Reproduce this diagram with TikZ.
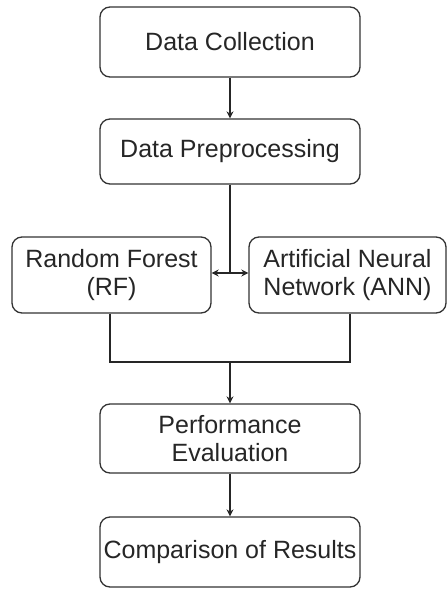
\documentclass[tikz,border=0pt]{standalone}
\usepackage{fontspec}
\setmainfont{Liberation Sans}
\usetikzlibrary{arrows.meta}
\begin{document}
\begin{tikzpicture}[x=1pt,y=-1pt,
  box/.style={draw=black!80, line width=1.3pt, rounded corners=10pt, align=center,
    font=\fontsize{25}{28.5}\selectfont, text=black!85, inner sep=0pt},
  conn/.style={draw=black!85, line width=1.3pt},
  arr/.style={conn, -{Stealth[length=7pt,width=7pt]}}]
\useasboundingbox (0,0) rectangle (447,590);
\node[box, minimum width=260pt, minimum height=70pt] (dc) at (230,42) {Data Collection};
\node[box, minimum width=260pt, minimum height=65pt] (dp) at (230,151.5) {Data Preprocessing};
\node[box, minimum width=199pt, minimum height=76pt] (rf) at (111.5,275) {Random Forest\\(RF)};
\node[box, minimum width=197pt, minimum height=76pt] (ann) at (347.5,275) {Artificial Neural\\Network (ANN)};
\node[box, minimum width=260pt, minimum height=69pt] (pe) at (230,438.5) {Performance\\Evaluation};
\node[box, minimum width=260pt, minimum height=70pt] (cr) at (230,552) {Comparison of Results};
\coordinate (j1) at (230,273);
\coordinate (j2) at (230,362);
\draw[arr] (dc.south) -- (dp.north);
\draw[conn] (dp.south) -- (j1);
\draw[conn, {Stealth[length=7pt,width=7pt]}-{Stealth[length=7pt,width=7pt]}] (rf.east |- j1) -- (ann.west |- j1);
\draw[conn] (rf.south -| 110,0) |- (j2) -| (ann.south -| 350,0);
\draw[arr] (j2) -- (pe.north);
\draw[arr] (pe.south) -- (cr.north);
\end{tikzpicture}
\end{document}
